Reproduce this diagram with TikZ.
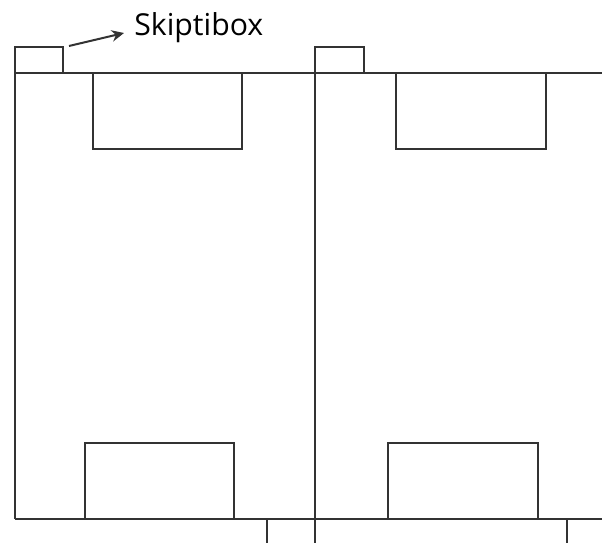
\documentclass[tikz,border=0pt]{standalone}
\usepackage{fontspec}
\setmainfont{Open Sans}
\usetikzlibrary{arrows.meta,positioning}
\tikzset{>={Stealth[length=7pt,width=6.5pt]}}
\tikzset{pageline/.style={black!80,line width=1.14pt}}
\begin{document}
\begin{tikzpicture}[x=0.02cm,y=-0.02cm]
\useasboundingbox (0,0) rectangle (602,543);
\draw[pageline] (15.2,47) rectangle (63.2,73);
\draw[pageline] (315.2,47) rectangle (364,73);
\draw[pageline] (15,73) -- (602,73);
\draw[pageline] (15,519) -- (602,519);
\draw[pageline] (15.2,73) -- (15.2,519);
\draw[pageline] (315.2,73) -- (315.2,543);
\draw[pageline] (93,73) rectangle (242.2,149.2);
\draw[pageline] (396,73) rectangle (546,149.2);
\draw[pageline] (85,443) rectangle (234.2,519);
\draw[pageline] (388.2,443) rectangle (538,519);
\draw[pageline] (267.2,519) -- (267.2,543);
\draw[pageline] (567.2,519) -- (567.2,543);
\coordinate (skiptail) at (69,46);
\node (skiplabel) [inner sep=0pt,anchor=west,font=\fontsize{17.2pt}{20pt}\selectfont] at (134,27.5) {Skiptibox};
\coordinate (skiphead) at (124,33);
\draw[->,pageline] (skiptail) -- (skiphead);
\end{tikzpicture}
\end{document}
